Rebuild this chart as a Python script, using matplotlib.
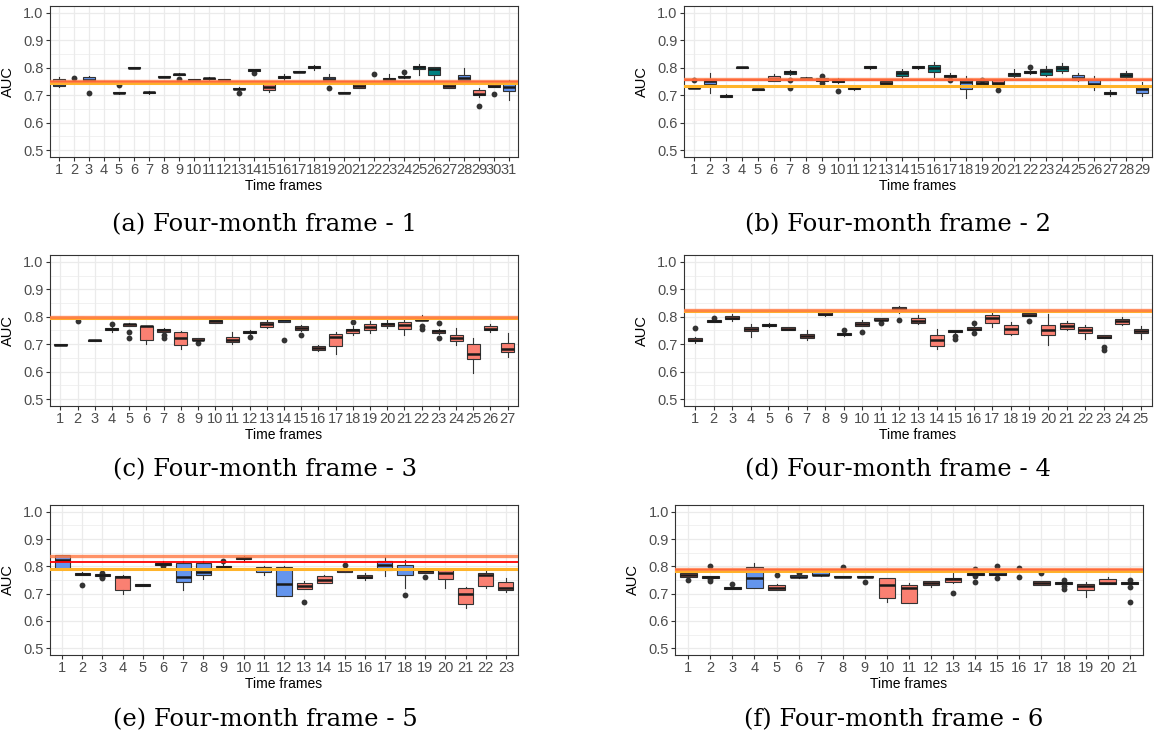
import matplotlib
matplotlib.use("Agg")
import matplotlib.pyplot as plt

# box stats per time frame: (whisker low, q1, median, q3, whisker high)
a_boxes = [(0.730, 0.733, 0.742, 0.760, 0.768), (0.744, 0.745, 0.747, 0.749, 0.750),
           (0.745, 0.748, 0.757, 0.767, 0.770), (0.743, 0.745, 0.746, 0.748, 0.750),
           (0.706, 0.707, 0.709, 0.711, 0.713), (0.798, 0.799, 0.800, 0.801, 0.802),
           (0.704, 0.707, 0.710, 0.713, 0.716), (0.765, 0.766, 0.768, 0.770, 0.771),
           (0.773, 0.775, 0.777, 0.779, 0.781), (0.754, 0.755, 0.757, 0.759, 0.760),
           (0.755, 0.760, 0.762, 0.764, 0.766), (0.754, 0.755, 0.757, 0.759, 0.760),
           (0.718, 0.721, 0.724, 0.726, 0.730), (0.788, 0.790, 0.792, 0.794, 0.795),
           (0.711, 0.719, 0.730, 0.740, 0.742), (0.757, 0.762, 0.766, 0.771, 0.776),
           (0.784, 0.785, 0.786, 0.788, 0.789), (0.792, 0.798, 0.802, 0.806, 0.809),
           (0.750, 0.755, 0.760, 0.767, 0.777), (0.707, 0.708, 0.709, 0.711, 0.712),
           (0.725, 0.727, 0.735, 0.742, 0.744), (0.742, 0.744, 0.746, 0.748, 0.750),
           (0.752, 0.755, 0.759, 0.763, 0.777), (0.764, 0.766, 0.768, 0.770, 0.772),
           (0.775, 0.797, 0.801, 0.805, 0.813), (0.757, 0.772, 0.797, 0.801, 0.802),
           (0.725, 0.727, 0.735, 0.742, 0.744), (0.740, 0.755, 0.762, 0.772, 0.798),
           (0.695, 0.700, 0.706, 0.719, 0.726), (0.729, 0.731, 0.735, 0.740, 0.742),
           (0.682, 0.714, 0.731, 0.742, 0.757)]
a_fliers = [[], [0.762], [0.709], [], [0.738], [], [], [], [0.760], [], [], [],
            [0.709], [0.782], [], [], [], [], [0.726], [], [], [0.777], [], [0.786],
            [], [], [], [], [0.659], [0.705], []]
a_colors = "brbbrtrtttttrtrtttbrrbttttrbrrb"
a_lines = (0.750, 0.748, 0.745)

b_boxes = [(0.725, 0.726, 0.728, 0.730, 0.731), (0.709, 0.740, 0.751, 0.760, 0.780),
           (0.692, 0.694, 0.697, 0.700, 0.703), (0.799, 0.800, 0.801, 0.802, 0.803),
           (0.718, 0.719, 0.721, 0.723, 0.724), (0.750, 0.753, 0.760, 0.770, 0.777),
           (0.774, 0.777, 0.784, 0.789, 0.791), (0.758, 0.760, 0.762, 0.764, 0.765),
           (0.748, 0.750, 0.757, 0.762, 0.765), (0.745, 0.748, 0.753, 0.760, 0.762),
           (0.718, 0.721, 0.728, 0.731, 0.733), (0.797, 0.799, 0.802, 0.805, 0.806),
           (0.738, 0.740, 0.745, 0.752, 0.755), (0.757, 0.770, 0.780, 0.787, 0.797),
           (0.794, 0.799, 0.802, 0.806, 0.808), (0.767, 0.784, 0.800, 0.810, 0.820),
           (0.764, 0.767, 0.771, 0.775, 0.780), (0.689, 0.721, 0.748, 0.760, 0.770),
           (0.738, 0.740, 0.745, 0.750, 0.752), (0.738, 0.740, 0.746, 0.755, 0.757),
           (0.767, 0.770, 0.776, 0.782, 0.794), (0.777, 0.780, 0.784, 0.789, 0.791),
           (0.770, 0.775, 0.787, 0.794, 0.806), (0.780, 0.789, 0.798, 0.806, 0.818),
           (0.753, 0.755, 0.762, 0.772, 0.782), (0.720, 0.731, 0.740, 0.755, 0.770),
           (0.699, 0.703, 0.709, 0.712, 0.718), (0.764, 0.767, 0.772, 0.780, 0.789),
           (0.699, 0.709, 0.724, 0.731, 0.748)]
b_fliers = [[0.756], [], [], [], [], [], [0.726, 0.757], [], [0.769, 0.745], [0.715],
            [], [], [], [], [], [], [0.756], [], [0.757], [0.718], [], [0.801], [],
            [], [], [], [], [], []]
b_colors = "rbrtrrtrrrbtrttttbrrttttbbrtb"
b_lines = (0.760, 0.754, 0.735)

c_boxes = [(0.696, 0.697, 0.699, 0.701, 0.702), (0.795, 0.796, 0.797, 0.798, 0.799),
           (0.710, 0.712, 0.714, 0.716, 0.717), (0.746, 0.750, 0.754, 0.760, 0.764),
           (0.765, 0.768, 0.772, 0.774, 0.776), (0.701, 0.716, 0.765, 0.767, 0.768),
           (0.742, 0.745, 0.750, 0.757, 0.760), (0.684, 0.697, 0.721, 0.745, 0.748),
           (0.710, 0.714, 0.717, 0.721, 0.723), (0.777, 0.779, 0.784, 0.789, 0.791),
           (0.701, 0.709, 0.716, 0.726, 0.743), (0.737, 0.740, 0.744, 0.748, 0.750),
           (0.760, 0.762, 0.772, 0.782, 0.789), (0.780, 0.782, 0.787, 0.791, 0.793),
           (0.748, 0.752, 0.758, 0.765, 0.770), (0.676, 0.680, 0.687, 0.694, 0.699),
           (0.663, 0.692, 0.728, 0.738, 0.745), (0.735, 0.741, 0.750, 0.757, 0.765),
           (0.741, 0.752, 0.762, 0.772, 0.784), (0.760, 0.765, 0.772, 0.779, 0.787),
           (0.735, 0.754, 0.769, 0.782, 0.789), (0.787, 0.788, 0.790, 0.792, 0.806),
           (0.738, 0.741, 0.748, 0.752, 0.756), (0.699, 0.711, 0.721, 0.735, 0.760),
           (0.595, 0.648, 0.665, 0.701, 0.721), (0.743, 0.750, 0.757, 0.765, 0.772),
           (0.655, 0.672, 0.684, 0.704, 0.740)]
c_fliers = [[], [0.785], [], [0.772], [0.743, 0.723], [], [0.735, 0.721], [], [0.704],
            [], [], [0.727], [], [0.717], [0.735], [], [], [0.782], [], [], [],
            [0.766, 0.755], [0.777, 0.722], [], [], [], []]
c_colors = "rrrrrrrrrrrrrbrrrrrrrrrrrrr"
c_lines = (0.799, 0.797, 0.794)

d_boxes = [(0.704, 0.711, 0.717, 0.723, 0.725), (0.780, 0.782, 0.785, 0.789, 0.791),
           (0.784, 0.791, 0.796, 0.802, 0.810), (0.728, 0.748, 0.754, 0.762, 0.772),
           (0.762, 0.765, 0.769, 0.775, 0.777), (0.750, 0.752, 0.757, 0.762, 0.764),
           (0.716, 0.721, 0.731, 0.738, 0.750), (0.804, 0.806, 0.811, 0.816, 0.818),
           (0.731, 0.733, 0.738, 0.741, 0.743), (0.765, 0.767, 0.774, 0.782, 0.790),
           (0.785, 0.787, 0.790, 0.794, 0.796), (0.813, 0.825, 0.830, 0.835, 0.841),
           (0.772, 0.778, 0.786, 0.796, 0.806), (0.684, 0.693, 0.714, 0.733, 0.754),
           (0.740, 0.743, 0.747, 0.751, 0.753), (0.748, 0.752, 0.757, 0.762, 0.765),
           (0.762, 0.779, 0.794, 0.808, 0.814), (0.733, 0.738, 0.754, 0.769, 0.782),
           (0.801, 0.803, 0.808, 0.813, 0.820), (0.699, 0.733, 0.750, 0.771, 0.811),
           (0.750, 0.757, 0.768, 0.778, 0.784), (0.718, 0.740, 0.751, 0.762, 0.769),
           (0.721, 0.723, 0.728, 0.733, 0.735), (0.770, 0.774, 0.783, 0.791, 0.799),
           (0.718, 0.740, 0.749, 0.757, 0.765)]
d_fliers = [[0.760], [0.797], [], [], [], [], [], [], [0.752], [0.745], [0.777],
            [0.789], [], [], [0.729, 0.718], [0.777, 0.740], [], [], [0.784], [],
            [], [], [0.689, 0.680], [], []]
d_colors = "rrrrrrrrrrrrrrrrrrrrrrrrr"
d_lines = (0.824, 0.822, 0.820)

e_boxes = [(0.786, 0.792, 0.825, 0.840, 0.841), (0.767, 0.768, 0.771, 0.775, 0.778),
           (0.764, 0.766, 0.769, 0.771, 0.773), (0.699, 0.714, 0.760, 0.765, 0.768),
           (0.727, 0.728, 0.732, 0.736, 0.737), (0.805, 0.806, 0.809, 0.812, 0.820),
           (0.715, 0.743, 0.760, 0.813, 0.818), (0.753, 0.767, 0.781, 0.813, 0.820),
           (0.794, 0.796, 0.799, 0.803, 0.811), (0.820, 0.828, 0.830, 0.835, 0.837),
           (0.769, 0.779, 0.791, 0.799, 0.800), (0.691, 0.692, 0.735, 0.799, 0.800),
           (0.717, 0.718, 0.728, 0.738, 0.745), (0.738, 0.738, 0.750, 0.763, 0.767),
           (0.780, 0.781, 0.785, 0.789, 0.790), (0.750, 0.756, 0.762, 0.768, 0.775),
           (0.766, 0.786, 0.806, 0.818, 0.836), (0.721, 0.768, 0.789, 0.806, 0.824),
           (0.776, 0.777, 0.784, 0.789, 0.794), (0.721, 0.752, 0.774, 0.786, 0.791),
           (0.646, 0.661, 0.698, 0.720, 0.725), (0.720, 0.728, 0.770, 0.777, 0.784),
           (0.707, 0.712, 0.722, 0.741, 0.758)]
e_fliers = [[], [0.731], [0.777, 0.757, 0.762], [], [], [0.803], [], [], [0.820], [],
            [], [], [0.670], [], [0.806], [], [], [0.694], [0.762], [], [], [], []]
e_colors = "brrrrbbbbbbbrrrrbbrrrrr"
e_lines = (0.839, 0.817, 0.791)

f_boxes = [(0.760, 0.762, 0.770, 0.774, 0.777), (0.757, 0.757, 0.760, 0.764, 0.766),
           (0.716, 0.718, 0.721, 0.725, 0.730), (0.720, 0.721, 0.757, 0.799, 0.811),
           (0.713, 0.714, 0.721, 0.733, 0.735), (0.758, 0.760, 0.762, 0.767, 0.769),
           (0.765, 0.767, 0.769, 0.782, 0.792), (0.760, 0.761, 0.762, 0.763, 0.764),
           (0.760, 0.761, 0.762, 0.763, 0.764), (0.670, 0.684, 0.733, 0.757, 0.758),
           (0.666, 0.667, 0.721, 0.730, 0.740), (0.726, 0.731, 0.740, 0.745, 0.746),
           (0.740, 0.742, 0.752, 0.757, 0.774), (0.767, 0.768, 0.771, 0.774, 0.776),
           (0.766, 0.768, 0.773, 0.779, 0.781), (0.781, 0.782, 0.784, 0.786, 0.787),
           (0.732, 0.733, 0.740, 0.745, 0.748), (0.734, 0.736, 0.740, 0.744, 0.746),
           (0.689, 0.715, 0.727, 0.737, 0.744), (0.734, 0.735, 0.739, 0.755, 0.760),
           (0.733, 0.735, 0.739, 0.742, 0.744)]
f_fliers = [[0.750], [0.800, 0.755, 0.748], [0.737], [], [0.767], [0.774], [], [0.799],
            [0.744], [], [], [], [0.704], [0.789, 0.766, 0.744], [0.801, 0.757],
            [0.794, 0.762], [0.774], [0.750, 0.729, 0.717], [], [], [0.750, 0.726, 0.671]]
f_colors = "rbrbrbbbbrrrrbbbrrrrr"
f_lines = (0.789, 0.786, 0.782)

captions = ["(a) Four-month frame - 1", "(b) Four-month frame - 2",
            "(c) Four-month frame - 3", "(d) Four-month frame - 4",
            "(e) Four-month frame - 5", "(f) Four-month frame - 6"]

fill = {"r": "#FA8072", "b": "#6495ED", "t": "#008080"}

W, H = 1158, 744
fig = plt.figure(figsize=(W / 100, H / 100), dpi=100)
plt.rcParams["font.family"] = ["Liberation Sans", "DejaVu Sans"]

# axes rectangles in pixels: left, top, right, bottom
rects = [(50, 6, 518, 157), (684, 6, 1152, 157),
         (50, 255, 518, 406), (684, 255, 1152, 406),
         (50, 505, 518, 655), (675, 505, 1143, 655)]
cap_pos = [(265, 225), (898, 225), (265, 470), (898, 470), (265, 720), (894, 720)]

panels = [(a_boxes, a_fliers, a_colors, a_lines), (b_boxes, b_fliers, b_colors, b_lines),
          (c_boxes, c_fliers, c_colors, c_lines), (d_boxes, d_fliers, d_colors, d_lines),
          (e_boxes, e_fliers, e_colors, e_lines), (f_boxes, f_fliers, f_colors, f_lines)]

for i, (boxes, fliers, colors, lines) in enumerate(panels):
    l, t, r, b = rects[i]
    ax = fig.add_axes([l / W, 1 - b / H, (r - l) / W, (b - t) / H])
    n = len(boxes)
    stats = []
    for bx, fl in zip(boxes, fliers):
        stats.append({"whislo": bx[0], "q1": bx[1], "med": bx[2], "q3": bx[3],
                      "whishi": bx[4], "fliers": fl})
    bp = ax.bxp(stats, positions=range(1, n + 1), widths=0.75, patch_artist=True,
                showcaps=False,
                boxprops=dict(edgecolor="#333333", linewidth=0.8),
                medianprops=dict(color="#1A1A1A", linewidth=1.8),
                whiskerprops=dict(color="#333333", linewidth=0.8),
                flierprops=dict(marker="o", markerfacecolor="#333333",
                                markeredgecolor="none", markersize=4.2))
    for patch, c in zip(bp["boxes"], colors):
        patch.set_facecolor(fill[c])

    # reference lines: red underneath, orange band drawn over it
    top, mid, low = lines
    ax.axhline(mid, color="#FF0000", lw=1.3, zorder=5)
    ax.axhline(low, color="#FFB42A", lw=2.2, zorder=6)
    ax.axhline(top, color="#FF7A45", lw=2.4, alpha=0.82, zorder=7)

    ax.set_xlim(0.4, n + 0.6)
    ax.set_ylim(0.475, 1.025)
    ax.set_xticks(range(1, n + 1))
    ax.set_xticklabels([str(k) for k in range(1, n + 1)])
    ax.set_yticks([0.5, 0.6, 0.7, 0.8, 0.9, 1.0])
    ax.set_yticklabels(["0.5", "0.6", "0.7", "0.8", "0.9", "1.0"])
    ax.set_yticks([0.55, 0.65, 0.75, 0.85, 0.95], minor=True)
    ax.grid(True, which="major", color="#EBEBEB", lw=0.9)
    ax.grid(True, which="minor", axis="y", color="#EBEBEB", lw=0.5)
    ax.set_axisbelow(True)
    ax.tick_params(axis="both", which="major", direction="out", length=3, width=0.8,
                   color="#333333", labelcolor="#4D4D4D", labelsize=10.5, pad=1.5)
    ax.tick_params(axis="y", which="minor", length=0)
    for s in ax.spines.values():
        s.set_color("#333333")
        s.set_linewidth(0.8)
    ax.set_xlabel("Time frames", fontsize=10, labelpad=1)
    ax.set_ylabel("AUC", fontsize=10.5)
    ax.yaxis.set_label_coords(-0.074, 0.5)

    cx, cy = cap_pos[i]
    fig.text(cx / W, 1 - cy / H, captions[i], ha="center", va="center",
             fontsize=17.5, family="DejaVu Serif")

fig.savefig("out.png", dpi=100)
